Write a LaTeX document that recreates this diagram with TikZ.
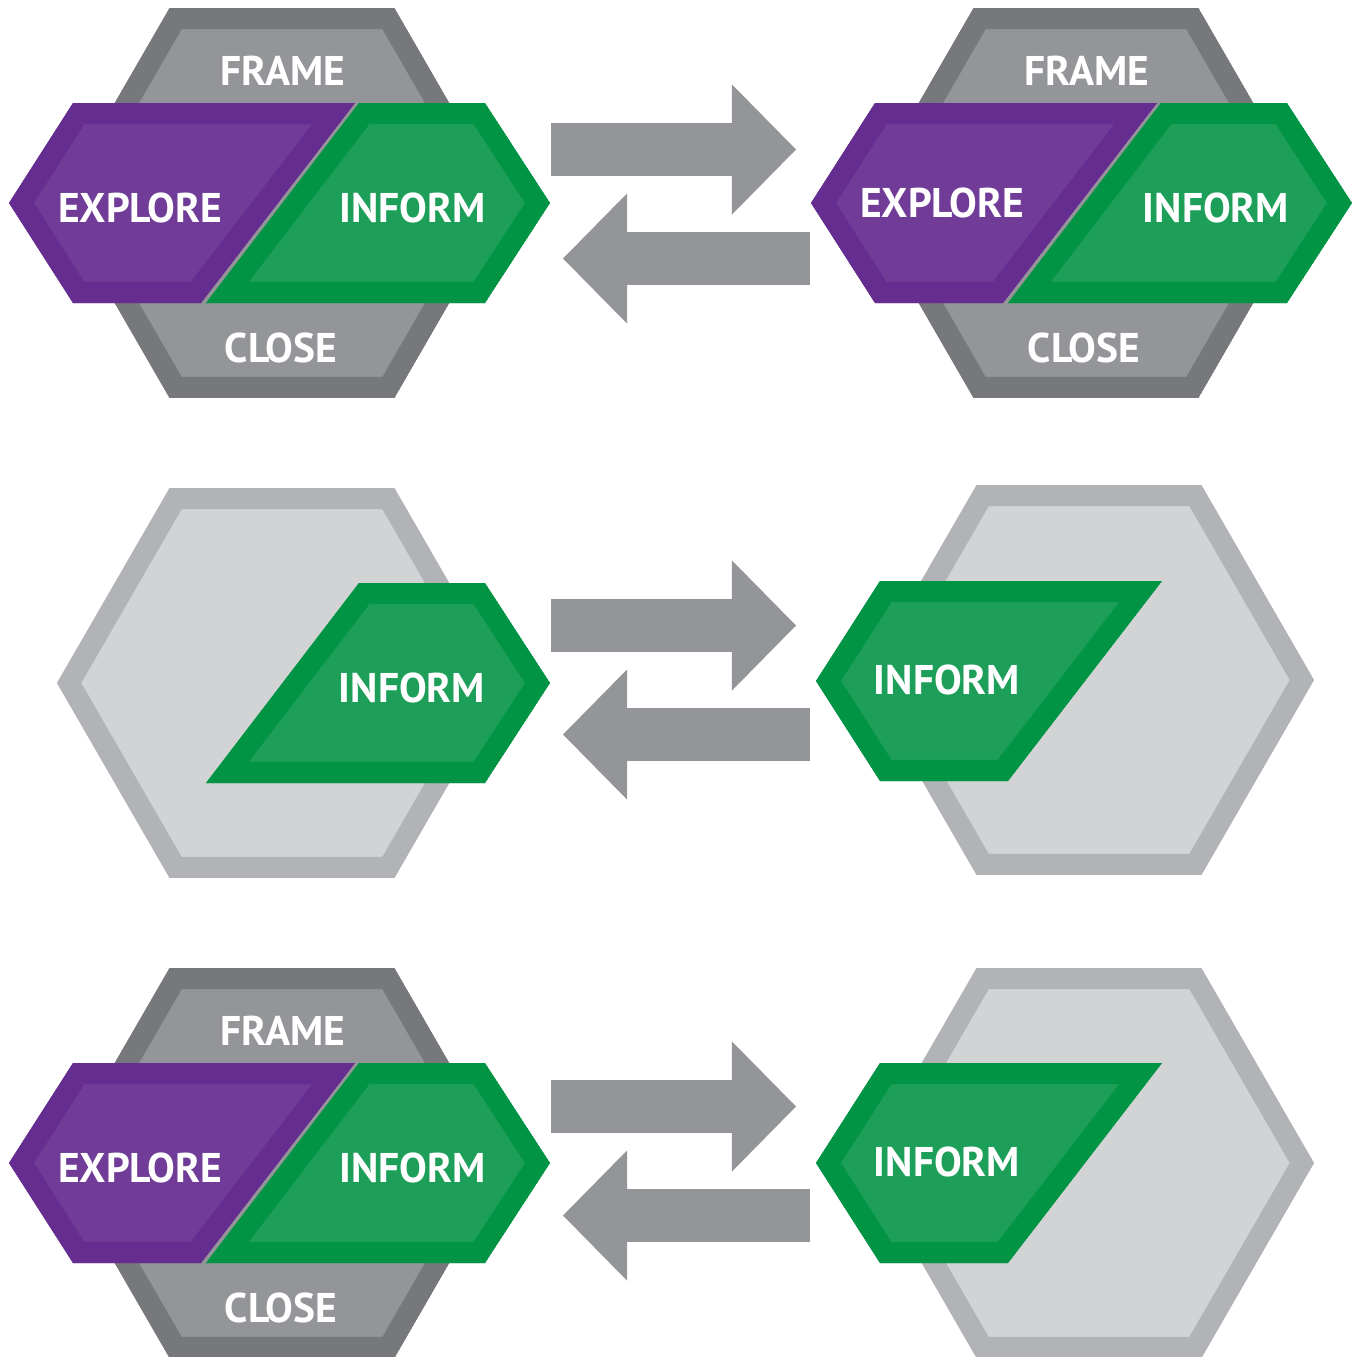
\documentclass[tikz,border=0pt]{standalone}
\usepackage{fontspec}
\setmainfont{PT Sans}
\usetikzlibrary{arrows.meta}
\definecolor{framedark}{HTML}{77787B}
\definecolor{framelight}{HTML}{939598}
\definecolor{softdark}{HTML}{B1B3B6}
\definecolor{softlight}{HTML}{D1D3D4}
\definecolor{exploredark}{HTML}{652D90}
\definecolor{explorelight}{HTML}{703C97}
\definecolor{informdark}{HTML}{009444}
\definecolor{informlight}{HTML}{1D9F5A}
\definecolor{arrowgrey}{HTML}{939598}
\tikzstyle{every node}+=[inner sep=0pt,text=white]
\tikzstyle{stagetext}=[font=\fontsize{11.8}{13}\selectfont\bfseries]
\tikzstyle{swaparrow}=[arrowgrey,line width=0.53cm,-{Triangle[length=0.64cm,width=1.30cm,line width=0pt]}]
% outer path in dark, inset 21px in light
\newcommand{\rimshape}[3]{
	\begin{scope}
		\clip #3;
		\fill[#2] #3;
		\draw[#1,line width=0.42cm,line join=miter] #3;
	\end{scope}
}
\newcommand{\stagehex}[4]{
	\begin{scope}[shift={(#1,#2)}]
		\rimshape{#3}{#4}{(0:225) -- (60:225) -- (120:225) -- (180:225) -- (240:225) -- (300:225) -- cycle}
	\end{scope}
}
\newcommand{\leftpart}[4]{
	\begin{scope}[shift={(#1,#2)}]
		\rimshape{#3}{#4}{(9,203) -- (73,103) -- (355,103) -- (201,303) -- (73,303) -- cycle}
	\end{scope}
}
\newcommand{\rightpart}[4]{
	\begin{scope}[shift={(#1,#2)}]
		\rimshape{#3}{#4}{(359,103) -- (485,103) -- (550,203) -- (485,303) -- (206,303) -- cycle}
	\end{scope}
}
\newcommand{\swaparrows}[2]{
	\coordinate (#1-gos) at (551,149.5+#2);
	\coordinate (#1-goe) at (796,149.5+#2);
	\coordinate (#1-backs) at (810,258.5+#2);
	\coordinate (#1-backe) at (563,258.5+#2);
	\draw[swaparrow] (#1-gos) -- (#1-goe);
	\draw[swaparrow] (#1-backs) -- (#1-backe);
}

\begin{document}
\begin{tikzpicture}[x=0.01cm,y=-0.01cm]
\useasboundingbox (0,0) rectangle (1354,1357);

% row 1
\stagehex{282}{203}{framedark}{framelight}
\leftpart{0}{0}{exploredark}{explorelight}
\rightpart{0}{0}{informdark}{informlight}
\node[stagetext] (a-frame) at (283,71) {FRAME};
\node[stagetext] (a-explore) at (140,207.5) {EXPLORE};
\node[stagetext] (a-inform) at (412.5,207.5) {INFORM};
\node[stagetext] (a-close) at (281,348) {CLOSE};

\swaparrows{a}{0}

\stagehex{1086}{203}{framedark}{framelight}
\leftpart{802}{0}{exploredark}{explorelight}
\rightpart{802}{0}{informdark}{informlight}
\node[stagetext] (b-frame) at (1087,71) {FRAME};
\node[stagetext] (b-explore) at (942,202.5) {EXPLORE};
\node[stagetext] (b-inform) at (1216,207.5) {INFORM};
\node[stagetext] (b-close) at (1084,348) {CLOSE};

% row 2
\stagehex{282}{683}{softdark}{softlight}
\rightpart{0}{480}{informdark}{informlight}
\node[stagetext] (c-inform) at (412,688) {INFORM};

\swaparrows{c}{476}

\stagehex{1089}{680}{softdark}{softlight}
\leftpart{807}{478}{informdark}{informlight}
\node[stagetext] (d-inform) at (947,680) {INFORM};

% row 3
\stagehex{282}{1163}{framedark}{framelight}
\leftpart{0}{960}{exploredark}{explorelight}
\rightpart{0}{960}{informdark}{informlight}
\node[stagetext] (e-frame) at (283,1031) {FRAME};
\node[stagetext] (e-explore) at (140,1167.5) {EXPLORE};
\node[stagetext] (e-inform) at (412.5,1167.5) {INFORM};
\node[stagetext] (e-close) at (281,1308) {CLOSE};

\swaparrows{e}{957}

\stagehex{1089}{1163}{softdark}{softlight}
\leftpart{807}{960}{informdark}{informlight}
\node[stagetext] (f-inform) at (947,1162) {INFORM};
\end{tikzpicture}
\end{document}
